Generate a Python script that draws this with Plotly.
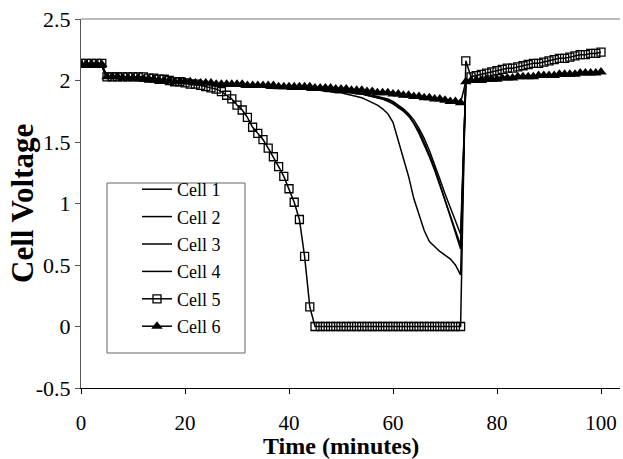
import plotly.graph_objects as go

TIME = list(range(0, 101))

CELL_1 = ([2.12] * 5 +
          [2.02, 2.02, 2.02, 2.01, 2.01] +
          [2.01, 2.01, 2.00, 2.00, 2.00, 1.99, 1.99, 1.99, 1.98, 1.98] +
          [1.98, 1.98, 1.97, 1.97, 1.97, 1.97, 1.96, 1.96, 1.96, 1.96] +
          [1.96, 1.95, 1.95, 1.95, 1.95, 1.95, 1.94, 1.94, 1.94, 1.94] +
          [1.93, 1.93, 1.93, 1.93, 1.92, 1.92, 1.92, 1.91, 1.91, 1.90] +
          [1.90, 1.89, 1.88, 1.87, 1.86, 1.84, 1.82, 1.80, 1.77, 1.73] +
          [1.66, 1.52, 1.38, 1.22, 1.04, 0.90, 0.78, 0.69, 0.65, 0.61] +
          [0.58, 0.55, 0.50, 0.42] +
          [1.98, 1.99, 1.99, 2.00, 2.00, 2.00] +
          [2.01, 2.01, 2.01, 2.02, 2.02, 2.02, 2.02, 2.03, 2.03, 2.03] +
          [2.03, 2.04, 2.04, 2.04, 2.04, 2.05, 2.05, 2.05, 2.05, 2.06] +
          [2.06])

CELL_2 = ([2.12] * 5 +
          [2.02, 2.02, 2.02, 2.01, 2.01] +
          [2.01, 2.01, 2.00, 2.00, 2.00, 1.99, 1.99, 1.99, 1.98, 1.98] +
          [1.98, 1.98, 1.97, 1.97, 1.97, 1.97, 1.96, 1.96, 1.96, 1.96] +
          [1.96, 1.95, 1.95, 1.95, 1.95, 1.95, 1.94, 1.94, 1.94, 1.94] +
          [1.93, 1.93, 1.93, 1.93, 1.92, 1.92, 1.92, 1.92, 1.91, 1.91] +
          [1.91, 1.90, 1.90, 1.89, 1.89, 1.88, 1.87, 1.86, 1.85, 1.83] +
          [1.81, 1.78, 1.75, 1.71, 1.65, 1.57, 1.48, 1.38, 1.27, 1.15] +
          [1.02, 0.90, 0.78, 0.66] +
          [1.98, 1.99, 1.99, 2.00, 2.00, 2.00] +
          [2.01, 2.01, 2.01, 2.02, 2.02, 2.02, 2.02, 2.03, 2.03, 2.03] +
          [2.03, 2.04, 2.04, 2.04, 2.04, 2.05, 2.05, 2.05, 2.05, 2.06] +
          [2.06])

CELL_3 = ([2.12] * 5 +
          [2.02, 2.02, 2.02, 2.01, 2.01] +
          [2.01, 2.01, 2.00, 2.00, 2.00, 1.99, 1.99, 1.99, 1.98, 1.98] +
          [1.98, 1.98, 1.97, 1.97, 1.97, 1.97, 1.96, 1.96, 1.96, 1.96] +
          [1.96, 1.95, 1.95, 1.95, 1.95, 1.95, 1.94, 1.94, 1.94, 1.94] +
          [1.93, 1.93, 1.93, 1.93, 1.92, 1.92, 1.92, 1.92, 1.91, 1.91] +
          [1.91, 1.91, 1.90, 1.90, 1.89, 1.89, 1.88, 1.87, 1.86, 1.85] +
          [1.83, 1.80, 1.77, 1.73, 1.68, 1.61, 1.53, 1.43, 1.32, 1.20] +
          [1.08, 0.97, 0.86, 0.75] +
          [1.98, 1.99, 1.99, 2.00, 2.00, 2.00] +
          [2.01, 2.01, 2.01, 2.02, 2.02, 2.02, 2.02, 2.03, 2.03, 2.03] +
          [2.03, 2.04, 2.04, 2.04, 2.04, 2.05, 2.05, 2.05, 2.05, 2.06] +
          [2.06])

CELL_4 = ([2.12] * 5 +
          [2.02, 2.02, 2.02, 2.01, 2.01] +
          [2.01, 2.01, 2.00, 2.00, 2.00, 1.99, 1.99, 1.99, 1.98, 1.98] +
          [1.98, 1.98, 1.97, 1.97, 1.97, 1.97, 1.96, 1.96, 1.96, 1.96] +
          [1.96, 1.95, 1.95, 1.95, 1.95, 1.95, 1.94, 1.94, 1.94, 1.94] +
          [1.93, 1.93, 1.93, 1.93, 1.92, 1.92, 1.92, 1.92, 1.91, 1.91] +
          [1.91, 1.91, 1.90, 1.90, 1.89, 1.88, 1.87, 1.86, 1.85, 1.84] +
          [1.82, 1.79, 1.76, 1.72, 1.66, 1.59, 1.50, 1.40, 1.29, 1.16] +
          [1.03, 0.89, 0.76, 0.63] +
          [1.98, 1.99, 1.99, 2.00, 2.00, 2.00] +
          [2.01, 2.01, 2.01, 2.02, 2.02, 2.02, 2.02, 2.03, 2.03, 2.03] +
          [2.03, 2.04, 2.04, 2.04, 2.04, 2.05, 2.05, 2.05, 2.05, 2.06] +
          [2.06])

CELL_5 = ([2.14] * 5 +
          [2.03, 2.03, 2.03, 2.03, 2.03] +
          [2.03, 2.03, 2.03, 2.02, 2.02, 2.01, 2.01, 2.00, 1.99, 1.99] +
          [1.98, 1.97, 1.97, 1.96, 1.95, 1.94, 1.93, 1.91, 1.88, 1.85] +
          [1.80, 1.76, 1.70, 1.62, 1.57, 1.52, 1.45, 1.38, 1.30, 1.22] +
          [1.12, 1.01, 0.87, 0.57, 0.16] +
          [0.0] * 29 +
          [2.16, 2.03, 2.04, 2.05, 2.06, 2.07] +
          [2.08, 2.09, 2.10, 2.10, 2.11, 2.12, 2.13, 2.14, 2.14, 2.15] +
          [2.16, 2.17, 2.18, 2.18, 2.19, 2.20, 2.21, 2.21, 2.22, 2.22] +
          [2.23])

CELL_6 = ([2.13] * 5 +
          [2.03, 2.03, 2.03, 2.02, 2.02] +
          [2.02, 2.02, 2.01, 2.01, 2.01, 2.00, 2.00, 2.00, 1.99, 1.99] +
          [1.99, 1.99, 1.98, 1.98, 1.98, 1.98, 1.97, 1.97, 1.97, 1.97] +
          [1.97, 1.97, 1.96, 1.96, 1.96, 1.96, 1.96, 1.96, 1.95, 1.95] +
          [1.95, 1.95, 1.95, 1.95, 1.95, 1.94, 1.94, 1.94, 1.94, 1.93] +
          [1.93, 1.93, 1.92, 1.92, 1.92, 1.91, 1.91, 1.90, 1.90, 1.90] +
          [1.89, 1.89, 1.88, 1.88, 1.87, 1.87, 1.86, 1.86, 1.85, 1.85] +
          [1.84, 1.83, 1.83, 1.82] +
          [1.99, 2.00, 2.00, 2.00, 2.01, 2.01] +
          [2.01, 2.02, 2.02, 2.02, 2.03, 2.03, 2.03, 2.03, 2.04, 2.04] +
          [2.04, 2.04, 2.05, 2.05, 2.05, 2.05, 2.06, 2.06, 2.06, 2.06] +
          [2.07])

NAMES = ["Cell 1", "Cell 2", "Cell 3", "Cell 4", "Cell 5", "Cell 6"]
X_TICKS = [0, 20, 40, 60, 80, 100]
Y_TICKS = [-0.5, 0, 0.5, 1, 1.5, 2, 2.5]
Y_TICK_TEXT = ["-0.5", "0", "0.5", "1", "1.5", "2", "2.5"]

SERIF = "Liberation Serif"

W, H = 623, 459
L, R, T, B = 81, 3, 19, 71
PW, PH = W - L - R, H - T - B


def px_to_paper(x, y):
    return (x - L) / PW, (H - B - y) / PH


fig = go.Figure()
line_series = [CELL_1, CELL_2, CELL_3, CELL_4]
for name, vals in zip(NAMES[:4], line_series):
    fig.add_trace(go.Scatter(x=TIME, y=vals, name=name, mode="lines",
                             legendgroup=name,
                             line=dict(color="black", width=1.5)))

fig.add_trace(go.Scatter(x=TIME, y=CELL_5, name=NAMES[4], mode="lines+markers",
                         legendgroup=NAMES[4],
                         line=dict(color="black", width=1.5),
                         marker=dict(symbol="square-open", size=8,
                                     color="black", line=dict(width=1.3, color="black"))))
fig.add_trace(go.Scatter(x=TIME, y=CELL_6, name=NAMES[5], mode="lines+markers",
                         legendgroup=NAMES[5],
                         line=dict(color="black", width=1.5),
                         marker=dict(symbol="triangle-up", size=10, color="black")))

bx0, by0 = px_to_paper(107, 183)
bx1, by1 = px_to_paper(245, 353)
lx, ly = px_to_paper(137, 171)

fig.update_layout(
    width=W, height=H,
    margin=dict(l=L, r=R, t=T, b=B),
    paper_bgcolor="white", plot_bgcolor="white",
    font=dict(family=SERIF, color="black"),
    showlegend=True,
    legend=dict(x=lx, y=ly, xanchor="left", yanchor="top",
                bgcolor="rgba(0,0,0,0)", borderwidth=0,
                font=dict(family=SERIF, size=18, color="black"),
                traceorder="grouped", tracegroupgap=1),
    xaxis=dict(range=[0, PW / 5.2], tickvals=X_TICKS, ticktext=[str(v) for v in X_TICKS],
               showgrid=False, zeroline=False, showline=True, linecolor="black",
               linewidth=1, ticks="outside", ticklen=5, tickcolor="black",
               tickfont=dict(family=SERIF, size=21, color="black"),
               ticklabelstandoff=11),
    yaxis=dict(range=[-0.5, 2.5], tickvals=Y_TICKS, ticktext=Y_TICK_TEXT,
               showgrid=False, zeroline=False, showline=True, linecolor="#555555",
               linewidth=1, ticks="outside", ticklen=5, tickcolor="#555555",
               tickfont=dict(family=SERIF, size=22, color="black")),
    shapes=[
        dict(type="rect", xref="paper", yref="paper", x0=bx0, y0=by1, x1=bx1, y1=by0,
             line=dict(color="#666666", width=1), fillcolor="rgba(0,0,0,0)", layer="above"),
        dict(type="line", xref="paper", yref="paper", x0=0, x1=1, y0=1, y1=1,
             line=dict(color="#777777", width=1)),
    ],
    annotations=[
        dict(text="<b>Time (minutes)</b>", x=50, xref="x", y=(H - B - 446) / PH, yref="paper",
             showarrow=False, xanchor="center", yanchor="middle",
             font=dict(family=SERIF, size=24, color="black")),
        dict(text="<b>Cell Voltage</b>", x=(23 - L) / PW, xref="paper", y=(H - B - 204) / PH,
             yref="paper", showarrow=False, textangle=-90, xanchor="center", yanchor="middle",
             font=dict(family=SERIF, size=31, color="black")),
    ],
)

fig.write_html("out.html")
